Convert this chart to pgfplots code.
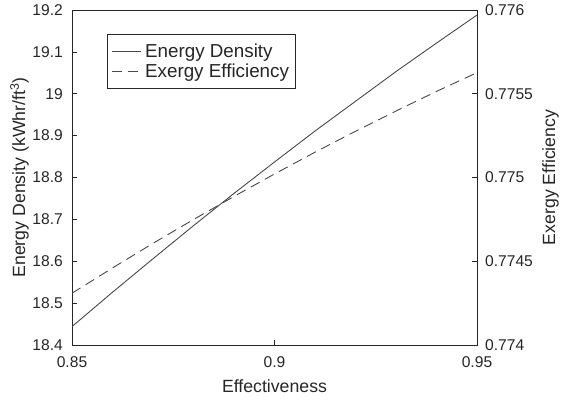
\documentclass[border=0pt]{standalone}
\usepackage{fontspec}
\setmainfont{Liberation Sans}
\usepackage{pgfplots}
\usepackage{pgfplotstable}
\pgfplotsset{compat=1.18}

\definecolor{axisgray}{RGB}{38,38,38}
\definecolor{linegray}{RGB}{72,72,72}

% Energy density (left axis) against effectiveness
\pgfplotstableread{
x     ed
0.85  18.444
0.86  18.526
0.87  18.606
0.88  18.685
0.89  18.762
0.90  18.837
0.91  18.911
0.92  18.982
0.93  19.053
0.94  19.121
0.95  19.188
}\energytab

% Exergy efficiency (right axis) against effectiveness
\pgfplotstableread{
x     ee
0.85  0.774309
0.86  0.774460
0.87  0.774607
0.88  0.774749
0.89  0.774887
0.90  0.775021
0.91  0.775151
0.92  0.775276
0.93  0.775397
0.94  0.775514
0.95  0.775626
}\exergytab

\begin{document}
\begin{tikzpicture}
\path[use as bounding box] (0,0) rectangle (561pt,402pt);
\pgfplotsset{
  common/.style={
    at={(72pt,57pt)}, anchor=south west,
    scale only axis, width=405pt, height=335pt,
    xmin=0.85, xmax=0.95,
    /pgf/number format/assume math mode=true,
    tick label style={font=\fontsize{15.6}{18}\selectfont, text=axisgray, inner sep=0pt},
    label style={font=\fontsize{17.7}{20}\selectfont, text=axisgray},
    axis line style={draw=axisgray, line width=0.7pt},
    major tick style={draw=axisgray, line width=0.7pt},
    major tick length=5pt,
    tick align=inside,
    scaled ticks=false,
  },
}
\begin{axis}[common,
  ymin=18.4, ymax=19.2,
  ytick={18.4,18.5,18.6,18.7,18.8,18.9,19,19.1,19.2},
  xtick={0.85,0.9,0.95},
  xtick pos=lower, ytick pos=left,
  xticklabel style={anchor=north, yshift=-11.5pt},
  yticklabel style={anchor=east, xshift=-9pt},
  xlabel={Effectiveness},
  xlabel style={at={(axis description cs:0.5,-0.1424)}, anchor=base},
  ylabel={Energy Density (kWhr/ft\textsuperscript{3})},
  ylabel style={at={(axis description cs:-0.116,0.5)}, anchor=base, rotate=0},
]
\addplot[linegray, line width=0.9pt] table[x=x, y=ed] {\energytab};
\end{axis}

\begin{axis}[common,
  axis x line=none,
  axis y line*=right,
  ymin=0.774, ymax=0.776,
  ytick={0.774,0.7745,0.775,0.7755,0.776},
  yticklabel style={anchor=west, xshift=8pt,
    /pgf/number format/.cd, fixed, precision=4},
  ylabel={Exergy Efficiency},
  ylabel style={at={(axis description cs:1.1926,0.5)}, anchor=base, rotate=0},
  legend style={
    at={(axis description cs:0.0864,0.928)}, anchor=north west,
    draw=axisgray, line width=0.5pt, fill=white,
    font=\fontsize{18.8}{21}\selectfont, text=axisgray,
    inner xsep=4pt, inner ysep=8pt,
    nodes={inner sep=2pt},
    /tikz/column sep=2pt,
    cells={anchor=west},
  },
  legend image code/.code={\draw[#1] (0pt,0pt) -- (29pt,0pt);},
]
\addlegendimage{linegray, line width=0.9pt}
\addlegendentry{Energy Density}
\addplot[linegray, line width=0.9pt, dash pattern=on 10pt off 6pt] table[x=x, y=ee] {\exergytab};
\addlegendentry{Exergy Efficiency}
\end{axis}
\end{tikzpicture}
\end{document}
